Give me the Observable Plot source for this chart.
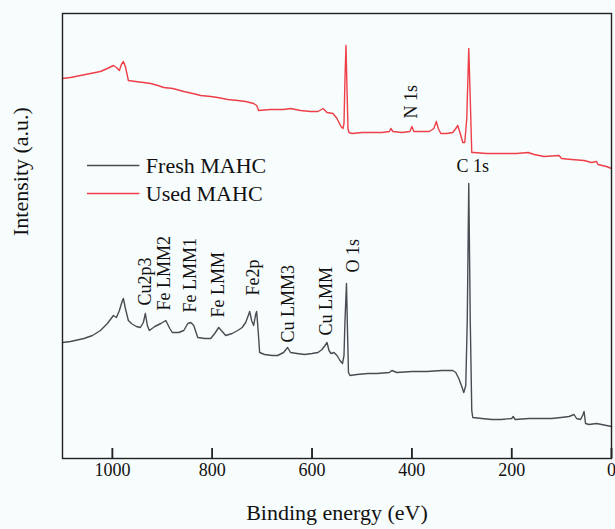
<!DOCTYPE html>
<html>
<head>
<meta charset="utf-8">
<script src="https://cdn.jsdelivr.net/npm/d3@7"></script>
<script src="https://cdn.jsdelivr.net/npm/@observablehq/plot@0.6"></script>
<style>
  html, body { margin: 0; padding: 0; background: #f7fcfc; }
  #chart { width: 615px; height: 529px; }
  #chart svg, #chart svg text { font-family: "Liberation Serif", "Times New Roman", serif; }
</style>
</head>
<body>
<div id="chart"></div>
<script>
// XPS survey spectra: binding energy (eV) and intensity (a.u.)
const freshEnergy = [1100,1084,1057,1040,1024,1010,998,992,986,980,978,974,968,962,952,944,938,934,930,926,915,903,893,885,880,867,857,849,843,837,829,815,803,795,787,780,773,760,749,740,733,727,725,721,717,713,711,708,705,695,680,669,657,649,643,630,615,600,588,580,574,570,566,562,556,550,544,539,536,534,531,529,527,524,510,488,470,445,440,430,400,370,340,318,312,306,300,296,292,289,286,283,280,278,260,240,221,200,197,193,165,150,120,101,85,75,70,62,57,55,52,45,30,20,10,0];
const freshIntensity = [116,117,120,123,128,135,143,141,148,158,160,150,138,135,132,131,136,145,133,128,132,135,138,130,126,126,128,135,136,133,121,120,120,125,131,127,123,125,128,131,136,144,147,138,133,144,147,128,106,104,103,103,106,111,106,105,104,105,106,109,113,116,108,105,106,103,98,95,103,138,175,128,86,83,84,85,85,86,88,86,87,87,88,88,86,80,72,66,73,138,275,138,48,41,40,39,39,40,42,39,40,40,40,41,42,44,40,39,44,47,35,34,35,34,33,32];

const usedEnergy = [1100,1084,1064,1044,1024,1010,998,992,986,982,978,974,968,954,938,923,909,897,879,857,839,823,803,789,769,749,733,717,711,707,683,657,643,623,603,588,578,570,558,550,542,538,536,534,532,530,528,526,520,500,480,460,445,442,438,420,404,400,396,380,365,356,351,347,342,330,318,312,308,303,298,294,290,286,283,280,276,250,221,190,167,155,135,105,100,80,55,40,30,27,10,0];
const usedIntensity = [380,381,383,385,387,390,393,391,388,394,397,392,378,377,376,375,373,371,370,367,365,363,362,361,359,358,357,355,353,348,349,349,350,348,347,347,350,346,345,340,332,330,335,380,413,370,330,326,325,326,326,326,327,330,327,326,327,332,327,327,327,330,337,330,325,325,326,330,333,325,316,316,340,410,360,306,306,305,305,305,306,304,302,303,300,299,298,296,297,294,292,290];

const seriesNames = ["Fresh MAHC", "Used MAHC"];
const seriesColors = ["#4b4b53", "#ee3f48"];

// Peak assignments (rotated labels) and where their text begins
const peakNames = ["Cu2p3", "Fe LMM2", "Fe LMM1", "Fe LMM", "Fe2p", "Cu LMM3", "Cu LMM", "O 1s"];
const peakEnergy = [935, 897, 845, 787, 717, 647, 572, 518];
const peakLabelBase = [153, 148, 146, 141, 163, 116, 123, 186];

// Labels on the used-sample spectrum
const usedPeakNames = ["N 1s"];
const usedPeakEnergy = [402];
const usedPeakLabelBase = [340];

const c1sLabel = {name: "C 1s", energy: 278, intensity: 292};

const xTicks = [1000, 800, 600, 400, 200, 0];

const fresh = freshEnergy.map((e, i) => ({energy: e, intensity: freshIntensity[i]}));
const used = usedEnergy.map((e, i) => ({energy: e, intensity: usedIntensity[i]}));
const peaks = peakNames.map((n, i) => ({name: n, energy: peakEnergy[i], base: peakLabelBase[i]}))
  .concat(usedPeakNames.map((n, i) => ({name: n, energy: usedPeakEnergy[i], base: usedPeakLabelBase[i]})));

// Legend placement in plot units
const legendLine = [1050, 945];
const legendTextX = 933;
const legendRows = [293, 265];
const legend = seriesNames.map((n, i) => ({name: n, color: seriesColors[i], y: legendRows[i]}));

const serif = "Liberation Serif";
const yTop = 445;          // intensity scale spans one unit per pixel
const tickLength = 10;     // inward tick length, px

const chart = Plot.plot({
  width: 615,
  height: 529,
  marginLeft: 62,
  marginRight: 4,
  marginTop: 13,
  marginBottom: 71,
  x: {domain: [1100, 0]},
  y: {domain: [0, yTop]},
  style: {fontFamily: serif, fontSize: "18px", background: "transparent", color: "#111"},
  marks: [
    Plot.line(fresh, {x: "energy", y: "intensity", stroke: seriesColors[0], strokeWidth: 1.4}),
    Plot.line(used, {x: "energy", y: "intensity", stroke: seriesColors[1], strokeWidth: 1.4}),
    Plot.frame({stroke: "#222", strokeWidth: 1.4}),
    // inward tick marks: bottom-axis ticks shifted up into the frame
    Plot.axisX({ticks: xTicks, tickSize: tickLength, dy: -tickLength, tickFormat: () => "", label: null,
      stroke: "#222", strokeWidth: 1.5}),
    Plot.ruleX(xTicks, {x: d => d, y1: 0, y2: tickLength, stroke: "#222", strokeWidth: 1.5}),
    // tick labels
    Plot.axisX({ticks: xTicks, tickFormat: d => String(d), tickSize: 0, tickPadding: 5, label: null,
      fontSize: 18, fontFamily: serif}),
    Plot.axisY({ticks: [], label: null}),
    Plot.text(peaks, {x: "energy", y: "base", text: "name", rotate: -90, textAnchor: "start", fontSize: 18, fontFamily: serif, fill: "#111"}),
    Plot.text([c1sLabel], {x: "energy", y: "intensity", text: "name", fontSize: 18, fontFamily: serif, fill: "#111"}),
    Plot.ruleY(legend, {y: "y", x1: legendLine[0], x2: legendLine[1], stroke: "color", strokeWidth: 1.6}),
    Plot.text(legend, {x: legendTextX, y: "y", text: "name", textAnchor: "start", fontSize: 22, fontFamily: serif, fill: "#111"}),
    Plot.text(["Binding energy (eV)"], {frameAnchor: "bottom", dy: 61, fontSize: 22, fontFamily: serif, fill: "#111"}),
    Plot.text(["Intensity (a.u.)"], {frameAnchor: "left", dx: -42, rotate: -90, fontSize: 22, fontFamily: serif, fill: "#111"})
  ]
});
document.getElementById("chart").append(chart);
</script>
</body>
</html>
